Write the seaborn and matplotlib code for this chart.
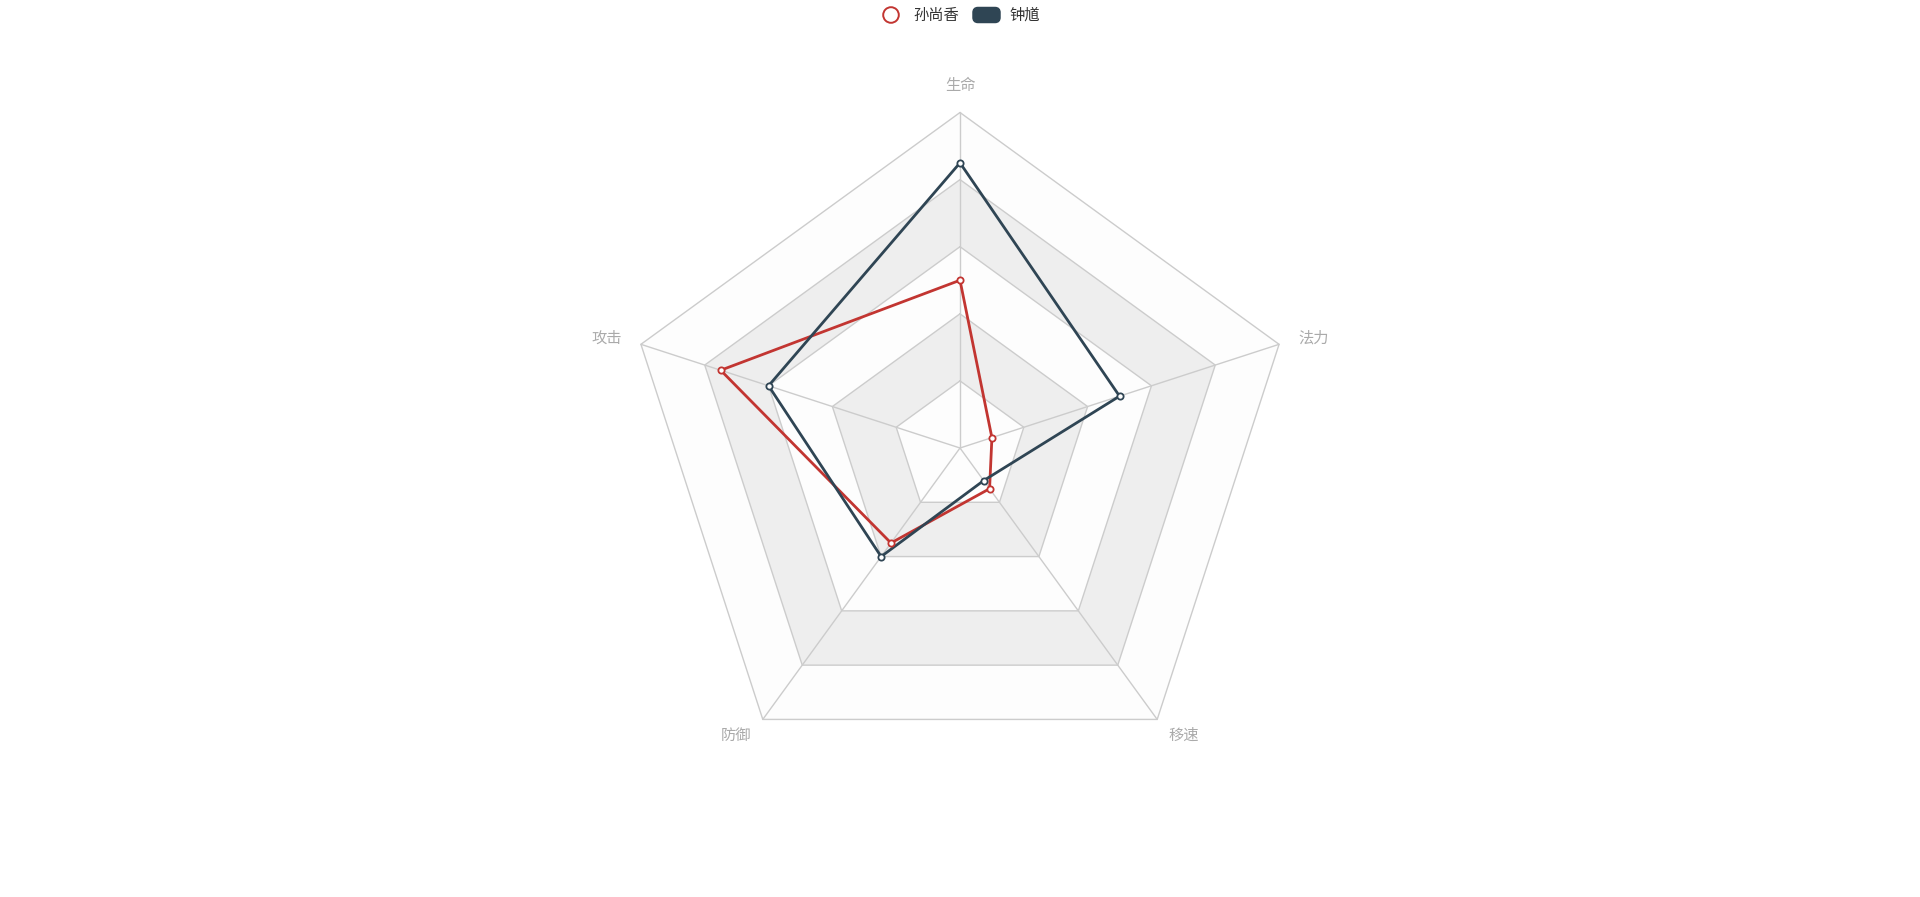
import numpy as np
import pandas as pd
import matplotlib
matplotlib.use("Agg")
import matplotlib.pyplot as plt
from matplotlib.patches import Circle, FancyBboxPatch
import seaborn as sns

# indicators, counterclockwise from the top (echarts order)
indicators = ["生命", "攻击", "防御", "移速", "法力"]
max_value = 100
sun_shangxiang = [50, 75, 35, 15, 10]
zhong_kui = [85, 60, 40, 12, 50]
series_names = ["孙尚香", "钟馗"]
series_colors = ["#c23531", "#2f4554"]

sns.set_theme(style="white")
plt.rcParams["font.family"] = ["Noto Sans CJK SC", "DejaVu Sans"]

W, H = 1920, 897
cx, cy, R = 960, 449, 335.5  # centre (px from bottom-left) and radius
fig = plt.figure(figsize=(W / 100, H / 100), dpi=100)
ax = fig.add_axes([0, 0, 1, 1])
ax.set_xlim(-cx / R, (W - cx) / R)
ax.set_ylim(-cy / R, (H - cy) / R)
ax.axis("off")

n = len(indicators)
angles = np.deg2rad(90 + 360 / n * np.arange(n))


def ring(r):
    xs = r * np.cos(angles)
    ys = r * np.sin(angles)
    return np.append(xs, xs[0]), np.append(ys, ys[0])


# split areas and split lines
levels = [0.2, 0.4, 0.6, 0.8, 1.0]
area_cols = ["#fdfdfd", "#eeeeee"]
prev = 0.0
for i, lv in enumerate(levels):
    ox, oy = ring(lv)
    ix, iy = ring(prev)
    ax.fill(np.concatenate([ox, ix[::-1]]), np.concatenate([oy, iy[::-1]]),
            color=area_cols[i % 2], lw=0, zorder=1)
    ax.plot(ox, oy, color="#cccccc", lw=1, zorder=2)
    prev = lv

# spokes
for a in angles:
    ax.plot([0, np.cos(a)], [0, np.sin(a)], color="#cccccc", lw=1, zorder=2)

# axis names
for name, a in zip(indicators, angles):
    c, s = np.cos(a), np.sin(a)
    if abs(c) < 0.1:          # top
        lx, ly, ha = c, s + 0.081, "center"
    elif s > 0:               # left / right
        lx, ly = c + 0.057 * np.sign(c), s + 0.018
        ha = "left" if c > 0 else "right"
    else:                     # bottom pair
        lx, ly, ha = c + 0.08 * np.sign(c), s - 0.047, "center"
    ax.text(lx, ly, name, ha=ha, va="center", fontsize=11, color="#aaaaaa")

# series
for name, vals, col in zip(series_names, [sun_shangxiang, zhong_kui], series_colors):
    r = np.array(vals) / max_value
    xs = r * np.cos(angles)
    ys = r * np.sin(angles)
    df = pd.DataFrame({"x": np.append(xs, xs[0]), "y": np.append(ys, ys[0])})
    sns.lineplot(data=df, x="x", y="y", sort=False, estimator=None, ax=ax,
                 color=col, lw=2, zorder=5)
    ax.plot(xs, ys, ls="none", marker="o", ms=4.5, mfc="white", mec=col,
            mew=1.3, zorder=6)

# legend (drawn in pixels)
ty = H - 15
fig.add_artist(Circle((891, ty), 7.8, transform=None, facecolor="white",
                      edgecolor=series_colors[0], lw=1.4))
fig.text(913 / W, ty / H, series_names[0], ha="left", va="center",
         fontsize=11, color="#333333")
fig.add_artist(FancyBboxPatch((974, ty - 6.5), 25, 13,
                              boxstyle="round,pad=0,rounding_size=4",
                              transform=None, facecolor=series_colors[1],
                              edgecolor=series_colors[1], lw=2.5))
fig.text(1009 / W, ty / H, series_names[1], ha="left", va="center",
         fontsize=11, color="#333333")

fig.savefig("out.png", dpi=100, facecolor="white")
